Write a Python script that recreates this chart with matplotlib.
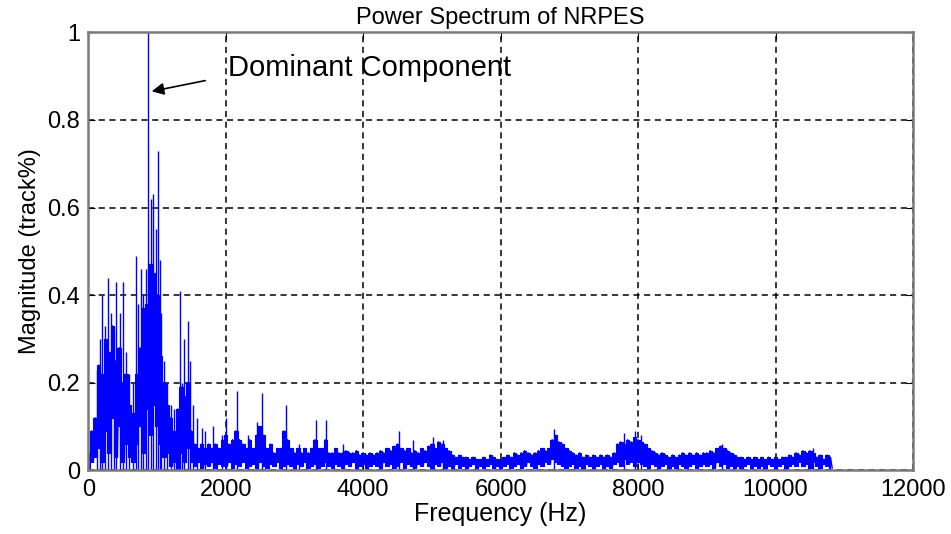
import numpy as np
import matplotlib
matplotlib.use('Agg')
import matplotlib.pyplot as plt

plt.rcParams['font.family'] = ['Liberation Sans', 'DejaVu Sans']

# frequency grid of the spectrum body (Hz), 50 Hz bins
bin_step = 50
freq_bins = np.arange(0, 10801, bin_step)

# upper edge of the spectrum body in each bin
upper_mag = [
    0.04, 0.09, 0.12, 0.24, 0.22, 0.30, 0.27, 0.33, 0.25, 0.28,
    0.20, 0.22, 0.15, 0.13, 0.22, 0.28, 0.37, 0.38, 0.47, 0.45,
    0.40, 0.26, 0.20, 0.15, 0.12, 0.09, 0.14, 0.19, 0.17, 0.20,
    0.09, 0.06, 0.05, 0.06, 0.05, 0.06, 0.05, 0.06, 0.05, 0.07,
    0.08, 0.06, 0.07, 0.09, 0.07, 0.06, 0.05, 0.07, 0.05, 0.08,
    0.10, 0.08, 0.05, 0.06, 0.04, 0.05, 0.05, 0.09, 0.07, 0.05,
    0.04, 0.05, 0.04, 0.05, 0.04, 0.05, 0.07, 0.05, 0.05, 0.07,
    0.04, 0.04, 0.05, 0.04, 0.04, 0.045, 0.04, 0.04, 0.045, 0.035,
    0.04, 0.035, 0.04, 0.035, 0.04, 0.045, 0.04, 0.05, 0.045, 0.055,
    0.06, 0.05, 0.045, 0.05, 0.04, 0.045, 0.04, 0.05, 0.045, 0.055,
    0.06, 0.05, 0.065, 0.06, 0.05, 0.045, 0.035, 0.03, 0.035, 0.03,
    0.03, 0.025, 0.03, 0.025, 0.025, 0.03, 0.025, 0.035, 0.03, 0.025,
    0.025, 0.03, 0.035, 0.03, 0.04, 0.035, 0.04, 0.045, 0.04, 0.035,
    0.04, 0.045, 0.05, 0.045, 0.05, 0.07, 0.08, 0.065, 0.06, 0.05,
    0.045, 0.04, 0.035, 0.04, 0.03, 0.035, 0.03, 0.035, 0.03, 0.035,
    0.03, 0.035, 0.03, 0.04, 0.06, 0.065, 0.06, 0.07, 0.065, 0.075,
    0.07, 0.065, 0.06, 0.05, 0.045, 0.04, 0.035, 0.04, 0.035, 0.03,
    0.035, 0.03, 0.035, 0.04, 0.035, 0.04, 0.035, 0.04, 0.035, 0.04,
    0.04, 0.045, 0.04, 0.05, 0.055, 0.05, 0.045, 0.04, 0.035, 0.03,
    0.03, 0.025, 0.03, 0.025, 0.03, 0.025, 0.03, 0.025, 0.03, 0.025,
    0.03, 0.025, 0.03, 0.03, 0.035, 0.03, 0.04, 0.035, 0.045, 0.04,
    0.045, 0.04, 0.03, 0.035, 0.025, 0.035, 0.03,
]

# lower edge of the spectrum body in each bin
lower_mag = [
    0.005, 0.02, 0.03, 0.05, 0.02, 0.09, 0.04, 0.12, 0.03, 0.10,
    0.02, 0.06, 0.03, 0.02, 0.06, 0.10, 0.04, 0.14, 0.08, 0.15,
    0.10, 0.06, 0.03, 0.04, 0.01, 0.02, 0.0, 0.04, 0.02, 0.05,
    0.02, 0.01, 0.02, 0.005, 0.015, 0.01, 0.02, 0.005, 0.015, 0.01,
    0.01, 0.02, 0.005, 0.015, 0.01, 0.02, 0.005, 0.01, 0.015, 0.005,
    0.02, 0.01, 0.005, 0.015, 0.01, 0.02, 0.005, 0.01, 0.015, 0.01,
    0.005, 0.015, 0.01, 0.02, 0.005, 0.01, 0.015, 0.005, 0.01, 0.02,
    0.01, 0.005, 0.015, 0.01, 0.005, 0.015, 0.01, 0.02, 0.005, 0.01,
    0.015, 0.005, 0.01, 0.015, 0.01, 0.005, 0.02, 0.01, 0.015, 0.005,
    0.01, 0.02, 0.005, 0.015, 0.01, 0.005, 0.015, 0.01, 0.02, 0.01,
    0.005, 0.015, 0.01, 0.02, 0.005, 0.01, 0.005, 0.015, 0.005, 0.01,
    0.005, 0.01, 0.015, 0.005, 0.01, 0.005, 0.01, 0.015, 0.005, 0.01,
    0.005, 0.01, 0.015, 0.005, 0.01, 0.015, 0.005, 0.01, 0.02, 0.01,
    0.005, 0.015, 0.01, 0.02, 0.015, 0.025, 0.02, 0.015, 0.01, 0.005,
    0.01, 0.015, 0.005, 0.01, 0.005, 0.015, 0.01, 0.005, 0.01, 0.015,
    0.005, 0.01, 0.005, 0.015, 0.02, 0.01, 0.025, 0.015, 0.02, 0.01,
    0.02, 0.015, 0.01, 0.005, 0.015, 0.01, 0.005, 0.01, 0.015, 0.005,
    0.01, 0.005, 0.015, 0.01, 0.005, 0.01, 0.015, 0.005, 0.01, 0.015,
    0.01, 0.015, 0.005, 0.02, 0.01, 0.015, 0.005, 0.01, 0.005, 0.01,
    0.005, 0.01, 0.015, 0.005, 0.01, 0.005, 0.01, 0.005, 0.015, 0.01,
    0.005, 0.01, 0.015, 0.005, 0.01, 0.015, 0.01, 0.02, 0.01, 0.015,
    0.005, 0.02, 0.01, 0.005, 0.015, 0.01, 0.005,
]

# isolated spectral lines sticking out of the body
spike_freq = [130, 170, 203, 250, 290, 330, 370, 406, 460, 508, 550, 600,
              650, 697, 730, 769, 800, 842, 869, 914, 943, 985, 1016, 1038,
              1060, 1100, 1150, 1200, 1250, 1335, 1360, 1400, 1451, 1480,
              1520, 1577, 1650, 1700, 1815, 1940, 2010, 2167, 2330, 2450,
              2535, 2873, 3060, 3319, 3464, 3700, 4528, 4720, 5012, 5156,
              6776, 7800, 7950, 8050, 9215, 10550]
spike_mag = [0.23, 0.30, 0.40, 0.33, 0.44, 0.36, 0.32, 0.43, 0.36, 0.43,
             0.27, 0.22, 0.20, 0.49, 0.38, 0.46, 0.40, 0.46, 1.0, 0.62,
             0.63, 0.55, 0.73, 0.48, 0.36, 0.25, 0.20, 0.15, 0.14, 0.41,
             0.20, 0.30, 0.34, 0.25, 0.15, 0.12, 0.097, 0.09, 0.10, 0.08,
             0.12, 0.18, 0.08, 0.11, 0.177, 0.15, 0.06, 0.115, 0.115, 0.06,
             0.09, 0.07, 0.075, 0.07, 0.094, 0.085, 0.09, 0.08, 0.06, 0.05]

x_ticks = [0, 2000, 4000, 6000, 8000, 10000, 12000]
y_ticks = [0, 0.2, 0.4, 0.6, 0.8, 1.0]
y_tick_labels = ['0', '0.2', '0.4', '0.6', '0.8', '1']

blue = '#0000ff'

fig = plt.figure(figsize=(9.51, 5.34), dpi=100)
ax = fig.add_axes([0.0928, 0.1193, 0.8672, 0.8202])

# solid body between the edges, plus a zigzag to keep the ragged outline
ax.fill_between(freq_bins, lower_mag, upper_mag, step='mid', color=blue,
                lw=0.8, edgecolor=blue)
zz_x = np.column_stack([freq_bins, freq_bins + bin_step / 2]).ravel()
zz_y = np.column_stack([upper_mag, lower_mag]).ravel()
ax.plot(zz_x, zz_y, color=blue, lw=1.0)
ax.vlines(spike_freq, 0, spike_mag, colors=blue, lw=1.0)

ax.set_xlim(0, 12000)
ax.set_ylim(0, 1)
ax.set_xticks(x_ticks)
ax.set_yticks(y_ticks)
ax.set_yticklabels(y_tick_labels)
ax.grid(True, color='black', linestyle=(0, (4, 3)), lw=1.1)
ax.set_axisbelow(True)
ax.tick_params(direction='in', length=5, top=True, right=True, labelsize=17,
               pad=6)
for s in ax.spines.values():
    s.set_color('#7a7a7a')
    s.set_linewidth(1.8)

ax.set_title('Power Spectrum of NRPES', fontsize=17, pad=6)
ax.set_xlabel('Frequency (Hz)', fontsize=18, labelpad=1)
ax.set_ylabel('Magnitude (track%)', fontsize=17, labelpad=4)

ax.annotate('', xy=(884, 0.864), xytext=(1742, 0.891),
            arrowprops=dict(arrowstyle='-|>', color='black', lw=1.2,
                            mutation_scale=18))
ax.text(2034, 0.918, 'Dominant Component', fontsize=21, va='center',
        ha='left')

fig.savefig('out.png', dpi=100)
